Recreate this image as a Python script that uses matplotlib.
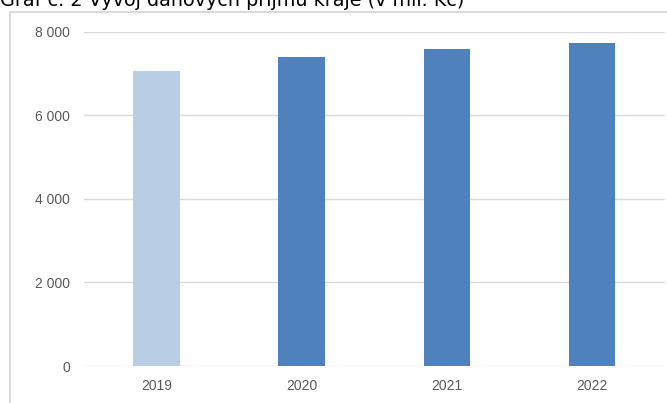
import matplotlib
matplotlib.use("Agg")
import matplotlib.pyplot as plt
from matplotlib.patches import Rectangle

# data (v mil. Kč)
roky = ["2019", "2020", "2021", "2022"]
prijmy = [7050, 7385, 7575, 7735]
barvy = ["#B9CDE5", "#4F81BD", "#4F81BD", "#4F81BD"]
y_ticks = [0, 2000, 4000, 6000, 8000]
y_labels = ["0", "2 000", "4 000", "6 000", "8 000"]
nadpis = "Graf č. 2 Vývoj daňových příjmů kraje (v mil. Kč)"

W, H = 667, 403
fig = plt.figure(figsize=(W / 100, H / 100), dpi=100)

# ramecek grafu (oriznuty vpravo a dole)
fig.patches.append(Rectangle((10 / W, -0.2), 2.0, 1.2 - 12 / H,
                             transform=fig.transFigure, fill=False,
                             edgecolor="#D9D9D9", linewidth=1.5))

ax = fig.add_axes([84 / W, 1 - 366 / H, (664.5 - 84) / W, (366 - 31.5) / H])
x = range(len(roky))
ax.bar(x, prijmy, width=0.32, color=barvy, zorder=3)
ax.set_xlim(-0.5, 3.5)
ax.set_ylim(0, 8000)
ax.set_yticks(y_ticks)
ax.set_yticklabels(y_labels)
ax.set_xticks(list(x))
ax.set_xticklabels(roky)
ax.grid(axis="y", color="#D9D9D9", linewidth=1, zorder=0)
for s in ax.spines.values():
    s.set_visible(False)
ax.tick_params(length=0, colors="#595959", labelsize=10)
ax.tick_params(axis="y", pad=10)
ax.tick_params(axis="x", pad=9)
for lab in ax.get_xticklabels() + ax.get_yticklabels():
    lab.set_fontfamily("Liberation Sans")

t = fig.text(0, 1 - 6.5 / H, nadpis, fontsize=13, family="DejaVu Sans",
             va="baseline", ha="left", color="black")
fig.canvas.draw()
sirka = t.get_window_extent().width
t.set_fontsize(13 * 465 / sirka)

fig.savefig("out.png", dpi=100)
